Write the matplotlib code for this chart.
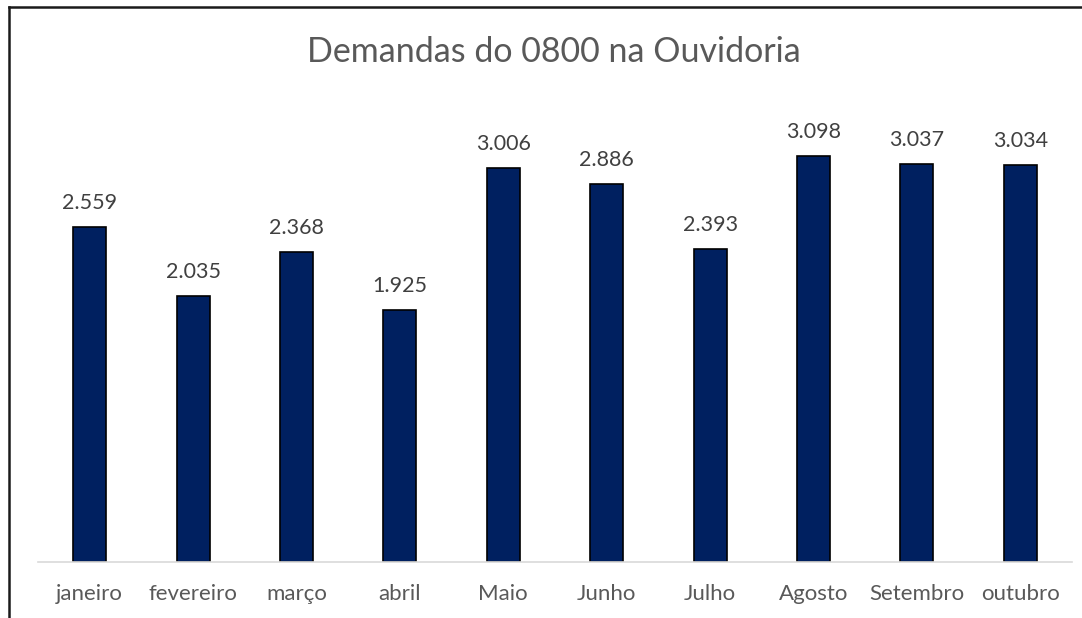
import matplotlib
matplotlib.use("Agg")
import matplotlib.pyplot as plt
from matplotlib.lines import Line2D

months = ["janeiro", "fevereiro", "março", "abril", "Maio", "Junho", "Julho", "Agosto", "Setembro", "outubro"]
values = [2559, 2035, 2368, 1925, 3006, 2886, 2393, 3098, 3037, 3034]
title = "Demandas do 0800 na Ouvidoria"

plt.rcParams['font.family'] = ['Lato', 'DejaVu Sans']
W, H = 1082, 618
fig = plt.figure(figsize=(W/100, H/100), dpi=100)
fig.patch.set_facecolor("white")

# outer frame (left/top visible)
fx, fy = 8.5/W, 1 - 6.5/H
fig.lines.append(Line2D([fx, fx], [0, fy], transform=fig.transFigure, color="#1a1a1a", linewidth=1.8))
fig.lines.append(Line2D([fx, 1.0], [fy, fy], transform=fig.transFigure, color="#1a1a1a", linewidth=1.8))

left, right = 38/W, 1072/W
bottom = 1 - 562/H
top = 1 - 105/H
ax = fig.add_axes([left, bottom, right-left, top-bottom])
x = range(len(months))
ax.bar(x, values, width=0.32, color="#002060", edgecolor="black", linewidth=1.2)
ax.set_xlim(-0.5, len(months)-0.5)
ax.set_ylim(0, 3490)
for xi, v in zip(x, values):
    lbl = f"{v/1000:.3f}"
    ax.annotate(lbl, (xi, v), xytext=(0, 10), textcoords="offset points",
                ha="center", va="bottom", fontsize=15.5, color="#404040")
ax.set_xticks(list(x))
ax.set_xticklabels(months, fontsize=16, color="#595959")
ax.tick_params(axis="x", length=0, pad=16)
ax.set_yticks([])
for s in ["left", "right", "top"]:
    ax.spines[s].set_visible(False)
ax.spines["bottom"].set_color("#d9d9d9")
ax.spines["bottom"].set_linewidth(1.2)
fig.text(554/W, 1 - 52/H, title, ha="center", va="center", fontsize=24.5, color="#595959")
fig.savefig("out.png", dpi=100, facecolor="white")
